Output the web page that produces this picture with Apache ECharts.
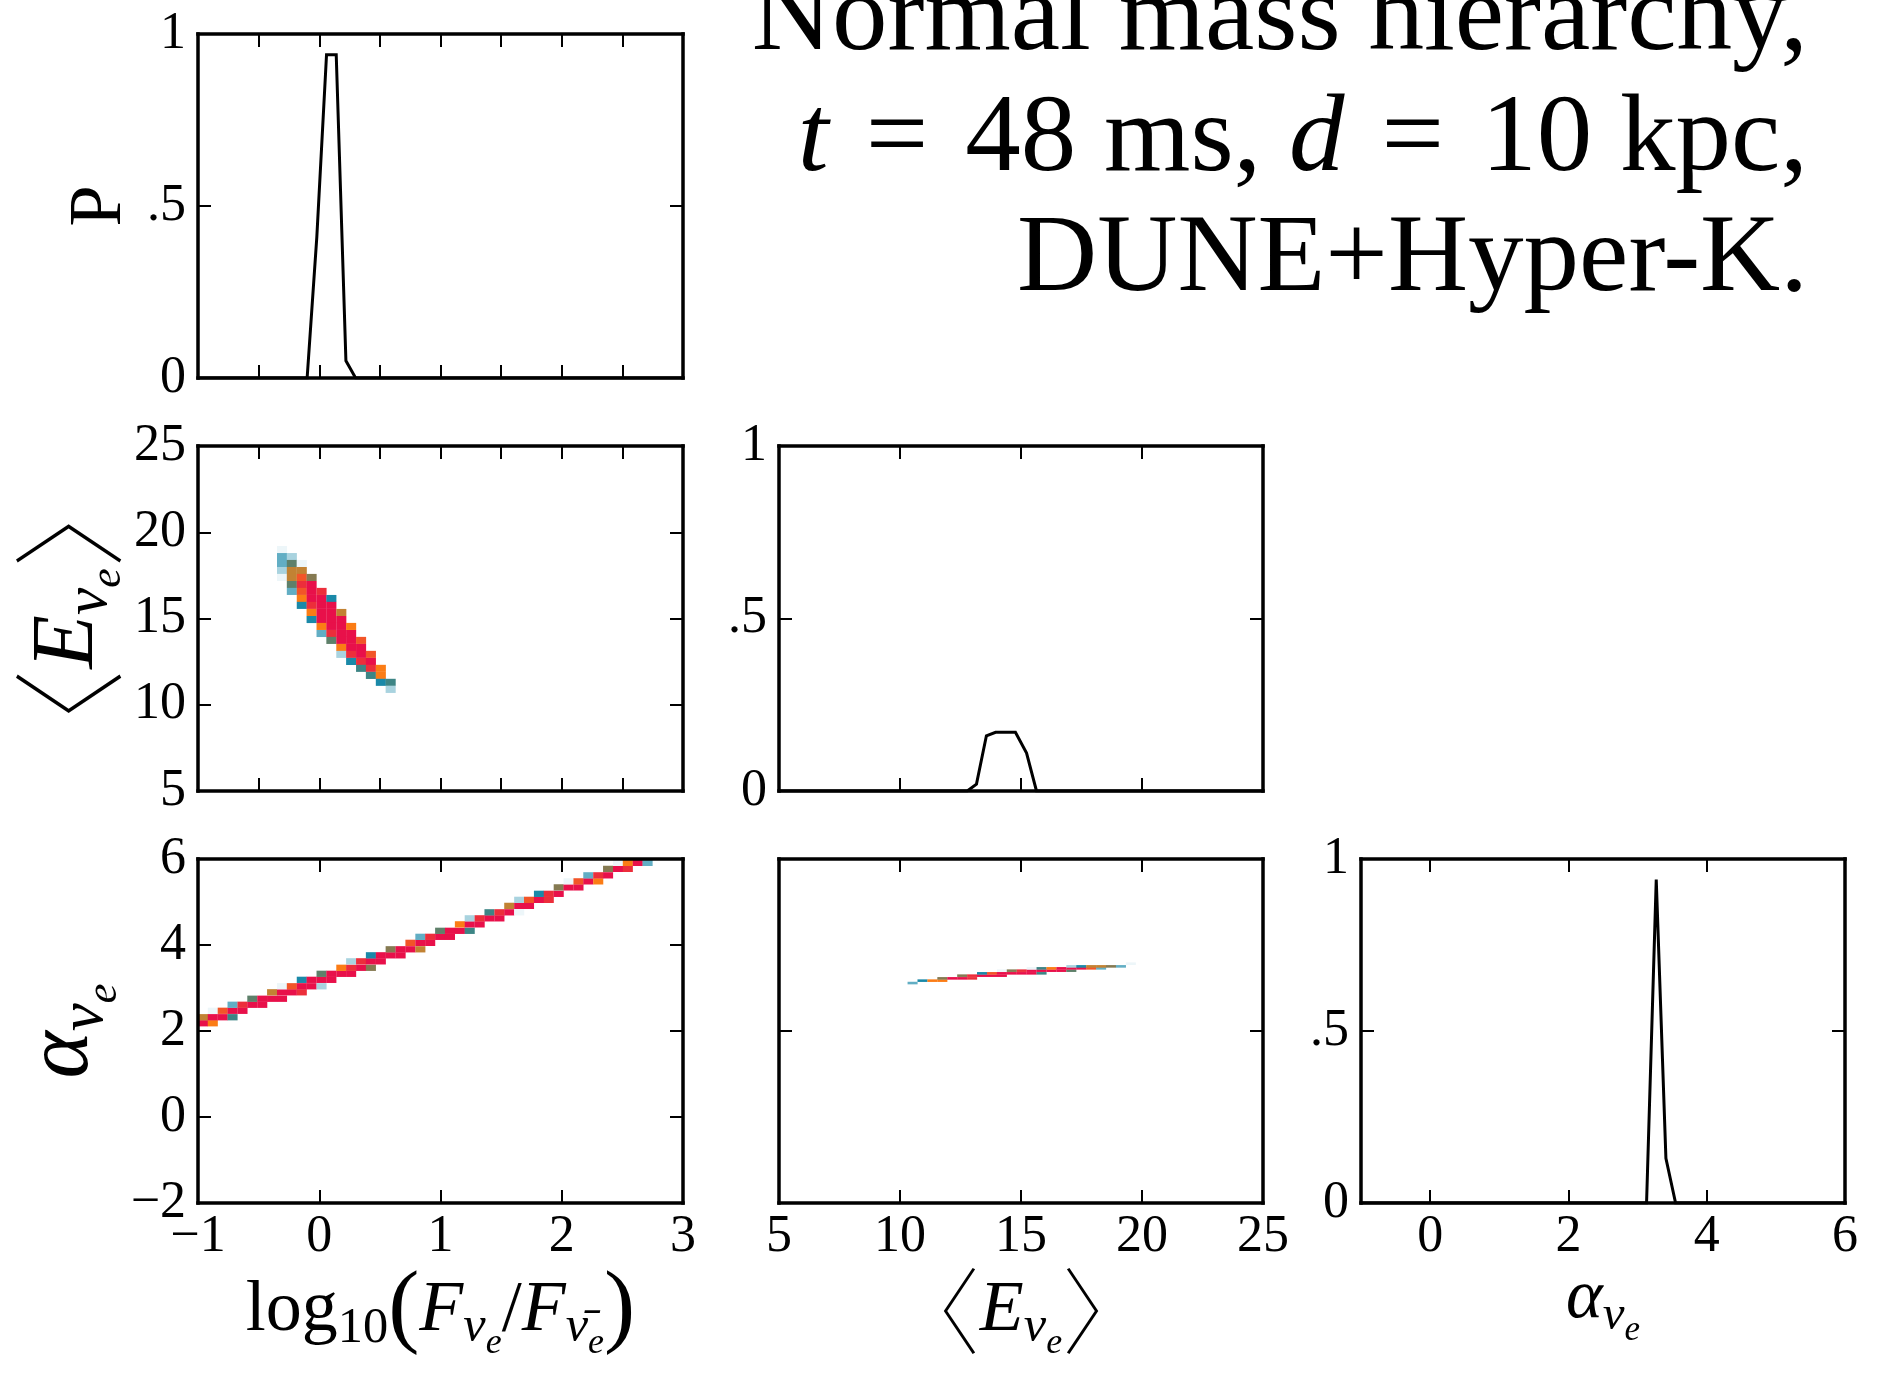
<!DOCTYPE html>
<html>
<head>
<meta charset="utf-8">
<title>Normal mass hierarchy, t=48 ms, d=10 kpc, DUNE+Hyper-K.</title>
<script src="https://cdn.jsdelivr.net/npm/echarts@6/dist/echarts.min.js"></script>
<style>
  html, body { margin: 0; padding: 0; background: #fff; }
  #chart { width: 1878px; height: 1378px; }
</style>
</head>
<body>
<div id="chart"></div>
<script>
  // 1-d marginals (P vs parameter)
  const logEdges = [-1, -0.10, -0.02, 0.06, 0.14, 0.22, 0.30, 3];
  const logProb = [0, 0, 0.41, 0.94, 0.94, 0.05, 0, 0];
  const eEdges = [5, 12.78, 13.16, 13.57, 13.95, 14.36, 14.77, 15.23, 15.64, 25];
  const eProb = [0, 0, 0.02, 0.16, 0.17, 0.17, 0.17, 0.11, 0, 0];
  const alphaEdges = [-1, 3.13, 3.27, 3.41, 3.55, 6];
  const alphaProb = [0, 0, 0.94, 0.13, 0, 0];

  // 2-d histograms: [x, y, level]  (level 0 = faintest, 11 = densest)
  const cellsLogE = [
    [-0.307, 19.00, 0],
    [-0.307, 18.59, 2], [-0.226, 18.59, 1],
    [-0.307, 18.19, 2], [-0.226, 18.19, 5], [-0.144, 18.19, 0],
    [-0.307, 17.78, 1], [-0.226, 17.78, 7], [-0.144, 17.78, 7],
    [-0.307, 17.38, 0], [-0.226, 17.38, 7], [-0.144, 17.38, 9], [-0.063, 17.38, 6],
    [-0.226, 16.97, 5], [-0.144, 16.97, 10], [-0.063, 16.97, 11],
    [-0.226, 16.57, 2], [-0.144, 16.57, 9], [-0.063, 16.57, 11], [0.019, 16.57, 10],
    [-0.144, 16.16, 8], [-0.063, 16.16, 11], [0.019, 16.16, 11], [0.100, 16.16, 3],
    [-0.144, 15.76, 3], [-0.063, 15.76, 10], [0.019, 15.76, 11], [0.100, 15.76, 11],
    [-0.063, 15.35, 8], [0.019, 15.35, 11], [0.100, 15.35, 11], [0.182, 15.35, 7],
    [-0.063, 14.94, 3], [0.019, 14.94, 11], [0.100, 14.94, 11], [0.182, 14.94, 11],
    [0.019, 14.54, 8], [0.100, 14.54, 11], [0.182, 14.54, 11], [0.263, 14.54, 8],
    [0.019, 14.13, 2], [0.100, 14.13, 10], [0.182, 14.13, 11], [0.263, 14.13, 11],
    [0.100, 13.73, 5], [0.182, 13.73, 11], [0.263, 13.73, 11], [0.345, 13.73, 9],
    [0.182, 13.32, 8], [0.263, 13.32, 11], [0.345, 13.32, 11],
    [0.182, 12.92, 1], [0.263, 12.92, 10], [0.345, 12.92, 11], [0.426, 12.92, 9],
    [0.263, 12.51, 3], [0.345, 12.51, 10], [0.426, 12.51, 11],
    [0.345, 12.11, 4], [0.426, 12.11, 10], [0.508, 12.11, 8],
    [0.426, 11.70, 4], [0.508, 11.70, 8],
    [0.508, 11.30, 3], [0.589, 11.30, 4],
    [0.589, 10.89, 1]
  ];

  const cellsLogAlpha = [
    [-0.959, 2.18, 11], [-0.878, 2.18, 8],
    [-0.959, 2.32, 7], [-0.878, 2.32, 11], [-0.796, 2.32, 11], [-0.715, 2.32, 4],
    [-0.878, 2.47, 0], [-0.796, 2.47, 9], [-0.715, 2.47, 11], [-0.633, 2.47, 11],
    [-0.715, 2.61, 2], [-0.633, 2.61, 10], [-0.552, 2.61, 11], [-0.470, 2.61, 11],
    [-0.552, 2.75, 5], [-0.470, 2.75, 11], [-0.389, 2.75, 11], [-0.307, 2.75, 11],
    [-0.389, 2.90, 7], [-0.307, 2.90, 11], [-0.226, 2.90, 11], [-0.144, 2.90, 10],
    [-0.307, 3.04, 0], [-0.226, 3.04, 9], [-0.144, 3.04, 11], [-0.063, 3.04, 11], [0.019, 3.04, 1],
    [-0.144, 3.19, 3], [-0.063, 3.19, 11], [0.019, 3.19, 11], [0.100, 3.19, 11],
    [0.019, 3.33, 5], [0.100, 3.33, 11], [0.182, 3.33, 11], [0.263, 3.33, 11],
    [0.182, 3.47, 8], [0.263, 3.47, 10], [0.345, 3.47, 11], [0.426, 3.47, 6],
    [0.263, 3.62, 1], [0.345, 3.62, 10], [0.426, 3.62, 11], [0.508, 3.62, 11],
    [0.426, 3.76, 3], [0.508, 3.76, 11], [0.589, 3.76, 11], [0.671, 3.76, 11],
    [0.589, 3.90, 6], [0.671, 3.90, 11], [0.752, 3.90, 11], [0.834, 3.90, 7],
    [0.752, 4.05, 9], [0.834, 4.05, 11], [0.915, 4.05, 11],
    [0.834, 4.19, 2], [0.915, 4.19, 10], [0.997, 4.19, 11], [1.078, 4.19, 11],
    [0.997, 4.33, 5], [1.078, 4.33, 11], [1.160, 4.33, 11], [1.241, 4.33, 4],
    [1.160, 4.48, 8], [1.241, 4.48, 11], [1.323, 4.48, 11],
    [1.241, 4.62, 1], [1.323, 4.62, 10], [1.404, 4.62, 11], [1.486, 4.62, 11],
    [1.404, 4.76, 4], [1.486, 4.76, 10], [1.567, 4.76, 11], [1.649, 4.76, 0],
    [1.567, 4.91, 7], [1.649, 4.91, 11], [1.730, 4.91, 11],
    [1.649, 5.05, 1], [1.730, 5.05, 9], [1.812, 5.05, 11], [1.893, 5.05, 10],
    [1.812, 5.19, 3], [1.893, 5.19, 10], [1.975, 5.19, 11],
    [1.975, 5.34, 6], [2.056, 5.34, 11], [2.138, 5.34, 11],
    [2.056, 5.48, 0], [2.138, 5.48, 9], [2.219, 5.48, 11], [2.301, 5.48, 8],
    [2.219, 5.62, 2], [2.301, 5.62, 10], [2.382, 5.62, 11],
    [2.382, 5.77, 6], [2.464, 5.77, 11], [2.545, 5.77, 10],
    [2.464, 5.91, 0], [2.545, 5.91, 8], [2.627, 5.91, 11], [2.708, 5.91, 2]
  ];

  const cellsEAlpha = [
    [10.52, 3.115, 2],
    [10.93, 3.171, 3], [11.34, 3.171, 8], [11.75, 3.171, 8],
    [11.75, 3.224, 6], [12.16, 3.224, 11], [12.57, 3.224, 11], [12.98, 3.224, 10],
    [12.57, 3.287, 6], [12.98, 3.287, 10], [13.39, 3.287, 11], [13.80, 3.287, 11], [14.21, 3.287, 11],
    [13.39, 3.341, 3], [13.80, 3.341, 9], [14.21, 3.341, 11], [14.62, 3.341, 11], [15.03, 3.341, 11], [15.44, 3.341, 11], [15.85, 3.341, 4],
    [14.21, 3.403, 0], [14.62, 3.403, 6], [15.03, 3.403, 10], [15.44, 3.403, 11], [15.85, 3.403, 11], [16.26, 3.403, 11], [16.67, 3.403, 11], [17.08, 3.403, 5],
    [15.44, 3.457, 0], [15.85, 3.457, 4], [16.26, 3.457, 8], [16.67, 3.457, 11], [17.08, 3.457, 11], [17.49, 3.457, 11], [17.90, 3.457, 9], [18.31, 3.457, 2],
    [17.08, 3.503, 1], [17.49, 3.503, 3], [17.90, 3.503, 7], [18.31, 3.503, 7], [18.72, 3.503, 6], [19.13, 3.503, 2],
    [19.54, 3.566, 0]
  ];

  // tick labels / tick positions
  const logLabels = [-1, 0, 1, 2, 3];
  const logTicksTop = [-0.5, 0, 0.5, 1, 1.5, 2, 2.5];
  const logTicksBottom = [0, 1, 2];
  const eLabels = [5, 10, 15, 20, 25];
  const eTicks = [10, 15, 20];
  const alphaLabels = [-2, 0, 2, 4, 6];
  const alphaTicks = [0, 2, 4];
  const alphaXLabels = [0, 2, 4, 6];
  const alphaXTicks = [0, 2, 4];
  const probLabels = [0, 0.5, 1];
  const probTicks = [0.5];
  const eYLabels = [5, 10, 15, 20, 25];

  const levelColors = ['#edf6f9', '#a9d3df', '#62aec4', '#1a89a8', '#3d8585', '#5e806a',
    '#857a52', '#c28233', '#fb7c15', '#f25528', '#ec2e3b', '#e8104a'];

  const FONT = 'Liberation Serif';
  const BRACKET_FONT = '"Noto Sans CJK JP Thin", "Noto Sans CJK JP Light", "Noto Sans CJK JP"';

  function num(v) {
    if (v === 0.5) return '.5';
    return v < 0 ? '\u2212' + Math.abs(v) : String(v);
  }

  function mathRich(s) {
    return {
      r: {fontFamily: FONT, fontSize: s, color: '#000'},
      i: {fontFamily: FONT, fontSize: s, fontStyle: 'italic', color: '#000'},
      br: {fontFamily: BRACKET_FONT, fontSize: s * 1.3, fontWeight: 100, color: '#000'},
      pa: {fontFamily: FONT, fontSize: s * 1.3, color: '#000'},
      s: {fontFamily: FONT, fontSize: s * 0.7, fontStyle: 'italic', padding: [s * 0.48, 0, 0, 0], color: '#000'},
      rs: {fontFamily: FONT, fontSize: s * 0.7, padding: [s * 0.5, 0, 0, 0], color: '#000'},
      ss: {fontFamily: FONT, fontSize: s * 0.5, fontStyle: 'italic', padding: [s * 0.9, 0, 0, 0], color: '#000'}
    };
  }

  const E_NAME = '{br|\u3008}{i|E}{s|\u03bd}{ss|e}{br|\u3009}';
  const A_NAME = '{i|\u03b1}{s|\u03bd}{ss|e}';
  const LOG_NAME = '{r|log}{rs|10}{pa|(}{i|F}{s|\u03bd}{ss|e}{r|/}{i|F}{s|\u03bd\u0304}{ss|e}{pa|)}';

  const grids = [
    {left: 198, top: 34, width: 485, height: 344},
    {left: 198, top: 446, width: 485, height: 345},
    {left: 198, top: 859, width: 485, height: 344},
    {left: 779, top: 446, width: 484, height: 345},
    {left: 779, top: 859, width: 484, height: 344},
    {left: 1361, top: 859, width: 484, height: 344}
  ];

  function baseAxis(gi, min, max, pos, ticks) {
    return {
      type: 'value', gridIndex: gi, min: min, max: max, position: pos, z: 10,
      splitLine: {show: false},
      axisLine: {show: true, onZero: false, lineStyle: {color: '#000', width: 3.5, cap: 'square'}},
      axisTick: {show: true, inside: true, length: 13, customValues: ticks, lineStyle: {color: '#000', width: 2}},
      axisLabel: {show: false}
    };
  }

  function withLabels(ax, labels, margin) {
    ax.axisLabel = {
      show: true, customValues: labels, formatter: num, margin: margin,
      fontFamily: FONT, fontSize: 52, color: '#000'
    };
    return ax;
  }

  function withName(ax, text, size, gap) {
    ax.name = text;
    ax.nameLocation = 'middle';
    ax.nameGap = gap;
    ax.nameTextStyle = {fontFamily: FONT, fontSize: size, color: '#000', rich: mathRich(size)};
    return ax;
  }

  const xAxes = [], yAxes = [];
  function addGrid(gi, xr, yr) {
    xAxes.push(xr.bottom, baseAxis(gi, xr.min, xr.max, 'top', xr.top));
    yAxes.push(yr.left, baseAxis(gi, yr.min, yr.max, 'right', yr.right));
  }

  // A: P(log)
  addGrid(0,
    {min: -1, max: 3, bottom: baseAxis(0, -1, 3, 'bottom', logTicksTop), top: logTicksTop},
    {min: 0, max: 1, left: withName(withLabels(baseAxis(0, 0, 1, 'left', probTicks), probLabels, 12), '{r|P}', 74, 60), right: probTicks});
  // B: <E> vs log
  addGrid(1,
    {min: -1, max: 3, bottom: baseAxis(1, -1, 3, 'bottom', logTicksTop), top: logTicksTop},
    {min: 5, max: 25, left: withName(withLabels(baseAxis(1, 5, 25, 'left', eTicks), eYLabels, 12), E_NAME, 88, 64), right: eTicks});
  // C: alpha vs log
  addGrid(2,
    {min: -1, max: 3, bottom: withName(withLabels(baseAxis(2, -1, 3, 'bottom', logTicksBottom), logLabels, 8), LOG_NAME, 72, 44), top: logTicksBottom},
    {min: -2, max: 6, left: withName(withLabels(baseAxis(2, -2, 6, 'left', alphaTicks), alphaLabels, 12), A_NAME, 90, 64), right: alphaTicks});
  // D: P(<E>)
  addGrid(3,
    {min: 5, max: 25, bottom: baseAxis(3, 5, 25, 'bottom', eTicks), top: eTicks},
    {min: 0, max: 1, left: withLabels(baseAxis(3, 0, 1, 'left', probTicks), probLabels, 12), right: probTicks});
  // E: alpha vs <E>
  addGrid(4,
    {min: 5, max: 25, bottom: withName(withLabels(baseAxis(4, 5, 25, 'bottom', eTicks), eLabels, 8), E_NAME, 72, 50), top: eTicks},
    {min: -2, max: 6, left: baseAxis(4, -2, 6, 'left', [2]), right: [2]});
  // F: P(alpha)
  addGrid(5,
    {min: -1, max: 6, bottom: withName(withLabels(baseAxis(5, -1, 6, 'bottom', alphaXTicks), alphaXLabels, 8), A_NAME, 70, 46), top: alphaXTicks},
    {min: 0, max: 1, left: withLabels(baseAxis(5, 0, 1, 'left', probTicks), probLabels, 12), right: probTicks});

  function pairs(xs, ys) {
    return xs.map((x, i) => [x, ys[i]]);
  }

  function cellRenderer(dx, dy) {
    return function (params, api) {
      const p0 = api.coord([api.value(0) - dx / 2, api.value(1) + dy / 2]);
      const sz = api.size([dx, dy]);
      return {
        type: 'rect',
        shape: {x: p0[0], y: p0[1], width: sz[0], height: sz[1]},
        style: {fill: api.visual('color')}
      };
    };
  }

  function lineSeries(gi, data) {
    return {
      type: 'line', xAxisIndex: gi * 2, yAxisIndex: gi * 2, data: data,
      symbol: 'none', lineStyle: {color: '#000', width: 3, join: 'miter'}, z: 5, animation: false
    };
  }

  function cellSeries(gi, data, dx, dy) {
    return {
      type: 'custom', xAxisIndex: gi * 2, yAxisIndex: gi * 2, data: data,
      renderItem: cellRenderer(dx, dy), clip: true, z: 3, animation: false
    };
  }

  const TITLE_SIZE = 111;
  function titleLine(y, text, rich) {
    return {
      type: 'text', x: 1808, y: y, z: 20,
      style: {
        text: text, fontFamily: FONT, fontSize: TITLE_SIZE, fill: '#000',
        align: 'right', verticalAlign: 'middle', textAlign: 'right', textVerticalAlign: 'middle',
        rich: rich
      }
    };
  }

  const option = {
    backgroundColor: '#fff',
    animation: false,
    grid: grids,
    xAxis: xAxes,
    yAxis: yAxes,
    visualMap: {
      type: 'continuous', show: false, seriesIndex: [1, 2, 4], dimension: 2,
      min: 0, max: 11, inRange: {color: levelColors}
    },
    series: [
      lineSeries(0, pairs(logEdges, logProb)),
      cellSeries(1, cellsLogE, 0.083, 0.41),
      cellSeries(2, cellsLogAlpha, 0.083, 0.146),
      lineSeries(3, pairs(eEdges, eProb)),
      cellSeries(4, cellsEAlpha, 0.415, 0.06),
      lineSeries(5, pairs(alphaEdges, alphaProb))
    ],
    graphic: [
      titleLine(20, 'Normal mass hierarchy,'),
      titleLine(141, '{i|t} \u200a=\u200a 48 ms, {i|d} \u200a=\u200a 10 kpc,',
        {i: {fontFamily: FONT, fontSize: TITLE_SIZE, fontStyle: 'italic', fill: '#000'}}),
      titleLine(261, 'DUNE+Hyper-K.')
    ]
  };

  const chart = echarts.init(document.getElementById('chart'));
  chart.setOption(option);
</script>
</body>
</html>
